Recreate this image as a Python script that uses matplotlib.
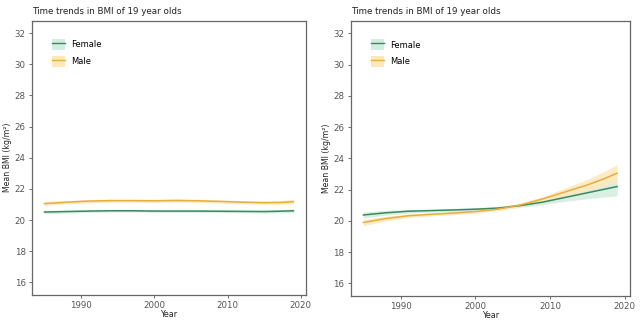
import numpy as np
import matplotlib
matplotlib.use("Agg")
from matplotlib import pyplot as plt
from matplotlib.patches import Patch
from matplotlib.lines import Line2D

# data
years = [1985, 1988, 1991, 1994, 1997, 2000, 2003, 2006, 2009, 2012, 2015, 2017, 2019]

# left panel
left_female = [20.52, 20.55, 20.58, 20.60, 20.60, 20.58, 20.58, 20.58, 20.57, 20.56, 20.55, 20.57, 20.60]
left_female_se = [0.11, 0.09, 0.08, 0.08, 0.08, 0.08, 0.08, 0.08, 0.08, 0.08, 0.09, 0.10, 0.12]
left_male = [21.06, 21.15, 21.22, 21.25, 21.25, 21.24, 21.26, 21.24, 21.20, 21.15, 21.12, 21.13, 21.18]
left_male_se = [0.13, 0.11, 0.10, 0.10, 0.10, 0.10, 0.10, 0.10, 0.10, 0.10, 0.11, 0.12, 0.14]

# right panel
right_female = [20.38, 20.52, 20.62, 20.66, 20.70, 20.75, 20.82, 20.98, 21.20, 21.50, 21.80, 22.00, 22.20]
right_female_se = [0.20, 0.15, 0.12, 0.10, 0.10, 0.10, 0.10, 0.12, 0.16, 0.25, 0.38, 0.48, 0.60]
right_male = [19.90, 20.15, 20.33, 20.42, 20.50, 20.60, 20.75, 21.02, 21.40, 21.85, 22.30, 22.65, 23.05]
right_male_se = [0.20, 0.15, 0.12, 0.10, 0.10, 0.10, 0.10, 0.12, 0.16, 0.25, 0.36, 0.45, 0.55]

title = "Time trends in BMI of 19 year olds"
green, green_fill = "#3a8a5c", "#d3ede0"
orange, orange_fill = "#e8ad3c", "#fde8bb"
grey = "#555555"

fig = plt.figure(figsize=(6.4, 3.22), dpi=100)
ax1 = fig.add_axes([0.050, 0.084, 0.428, 0.852])
ax2 = fig.add_axes([0.548, 0.081, 0.436, 0.854])


def panel(ax, female, female_se, male, male_se):
    f = np.array(female)
    fs = np.array(female_se)
    m = np.array(male)
    ms = np.array(male_se)
    ax.fill_between(years, f - fs, f + fs, color=green_fill, alpha=0.85, lw=0)
    ax.fill_between(years, m - ms, m + ms, color=orange_fill, alpha=0.85, lw=0)
    ax.plot(years, f, color=green, lw=1.1)
    ax.plot(years, m, color=orange, lw=1.1)

    ax.set_xlim(1983.3, 2020.7)
    ax.set_ylim(15.2, 32.8)
    ax.set_xticks([1990, 2000, 2010, 2020])
    ax.set_yticks([16, 18, 20, 22, 24, 26, 28, 30, 32])
    ax.tick_params(labelsize=6.2, colors=grey, length=2.5, width=0.6, pad=2)
    for s in ax.spines.values():
        s.set_color("#666666")
        s.set_linewidth(0.9)
    ax.set_xlabel("Year", fontsize=5.8, labelpad=0, color="#222222")
    ax.set_ylabel("Mean BMI (kg/m²)", fontsize=5.6, labelpad=2, color="#222222")
    ax.set_title(title, fontsize=6.3, loc="left", x=-0.0, pad=5, color="#222222")

    handles = [
        (Patch(facecolor=green_fill, edgecolor="none"), Line2D([], [], color=green, lw=1)),
        (Patch(facecolor=orange_fill, edgecolor="none"), Line2D([], [], color=orange, lw=1)),
    ]
    ax.legend(handles, ["Female", "Male"], loc="upper left", bbox_to_anchor=(0.045, 0.96),
              frameon=False, fontsize=6, handlelength=1.6, handleheight=1.6,
              labelspacing=0.75, handletextpad=0.7)


panel(ax1, left_female, left_female_se, left_male, left_male_se)
panel(ax2, right_female, right_female_se, right_male, right_male_se)

fig.savefig("out.png", dpi=100)
